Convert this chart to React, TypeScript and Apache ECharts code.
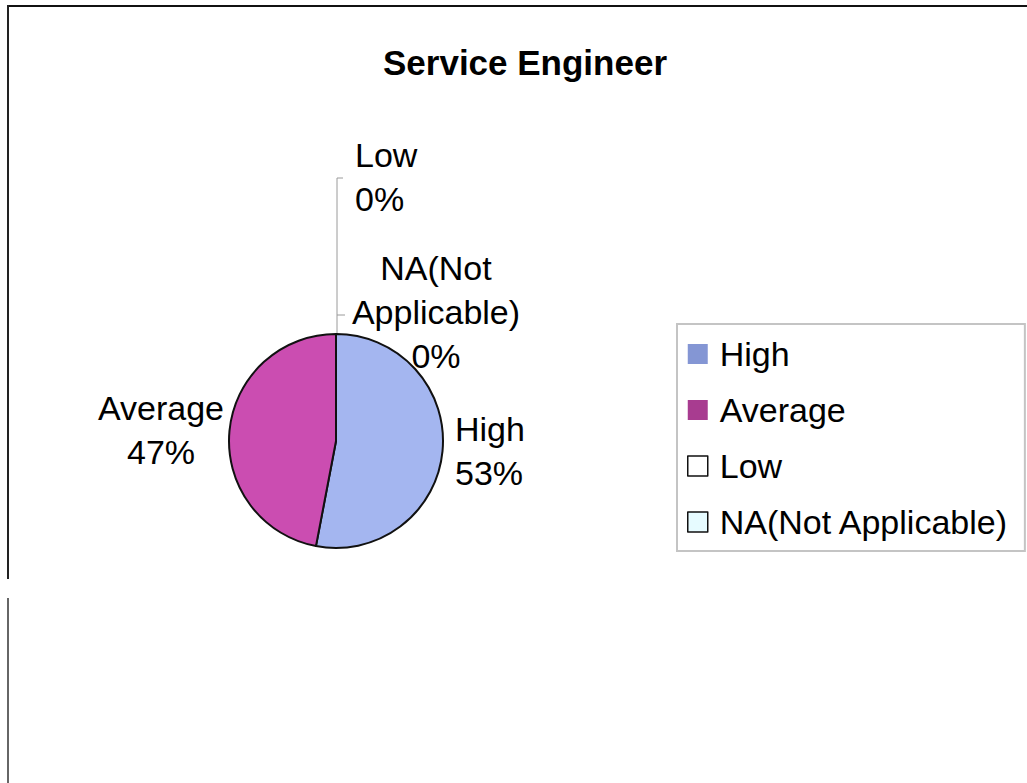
import React, { useEffect, useRef } from "react";
import * as echarts from "echarts";

const categories = ["High", "Average", "Low", "NA(Not Applicable)"];
const values = [53, 47, 0, 0];
const labelNames = ["High", "Average", "Low", "NA(Not\nApplicable)"];
const sliceColors = ["#A4B6F0", "#CB4DB1", "#FFFFFF", "#DDFFFF"];
const legendColors = ["#8496D4", "#A83C90", "#FFFFFF", "#E6FBFF"];

const FONT = "'Liberation Sans', Arial, sans-serif";
const CX = 336;
const CY = 441;
const R = 107;

// label anchor offsets relative to pie centre
const labelAnchors = [
  { dx: 119, dy: 10, align: "left" },
  { dx: -175, dy: -11, align: "center" },
  { dx: 19, dy: -264, align: "left" },
  { dx: 100, dy: -129, align: "center" },
];

export default function App() {
  const ref = useRef<HTMLDivElement>(null);
  useEffect(() => {
    if (!ref.current) return;
    const chart = echarts.init(ref.current, undefined, { renderer: "svg" });
    chart.setOption({
      animation: false,
      backgroundColor: "#ffffff",
      title: {
        text: "Service Engineer",
        left: 520,
        top: 40,
        textAlign: "center",
        textStyle: {
          fontFamily: FONT,
          fontWeight: "bold",
          fontSize: 35,
          color: "#000",
        },
      },
      legend: {
        orient: "vertical",
        left: 677,
        top: 324,
        padding: [13, 16, 12, 10],
        itemGap: 22,
        itemWidth: 20,
        itemHeight: 20,
        borderColor: "#c4c4c4",
        borderWidth: 2,
        data: categories.map((c, i) => ({
          name: c,
          icon: "rect",
          itemStyle: {
            color: legendColors[i],
            borderColor: i < 2 ? legendColors[i] : "#111",
            borderWidth: i < 2 ? 0 : 1.5,
          },
        })),
        textStyle: {
          fontFamily: FONT,
          fontSize: 34,
          lineHeight: 34,
          color: "#000",
          padding: [0, 0, 0, 7],
        },
      },
      graphic: [
        { type: "line", shape: { x1: 7, y1: 6, x2: 1027, y2: 6 }, style: { stroke: "#111", lineWidth: 2 } },
        { type: "line", shape: { x1: 8, y1: 5, x2: 8, y2: 579 }, style: { stroke: "#222", lineWidth: 2 } },
        { type: "line", shape: { x1: 8, y1: 598, x2: 8, y2: 783 }, style: { stroke: "#333", lineWidth: 1.5 } },
        {
          type: "polyline",
          shape: { points: [[CX + 1, CY - R], [CX + 1, 178], [CX + 7, 178]] },
          style: { stroke: "#9a9a9a", lineWidth: 1, fill: "none" },
          z: 1,
        },
        {
          type: "line",
          shape: { x1: CX + 1, y1: 315, x2: CX + 9, y2: 315 },
          style: { stroke: "#9a9a9a", lineWidth: 1 },
          z: 1,
        },
      ],
      series: [
        {
          type: "pie",
          center: [CX, CY],
          radius: R,
          startAngle: 90,
          clockwise: true,
          percentPrecision: 0,
          avoidLabelOverlap: false,
          itemStyle: { borderColor: "#111", borderWidth: 2 },
          emphasis: { disabled: true },
          labelLine: { show: false },
          label: {
            show: true,
            position: "outside",
            fontFamily: FONT,
            fontSize: 34,
            lineHeight: 44,
            color: "#000",
            formatter: (p: any) => `${labelNames[p.dataIndex]}\n${p.percent}%`,
          },
          labelLayout: (p: any) => {
            const a = labelAnchors[p.dataIndex];
            return {
              x: CX + a.dx,
              y: CY + a.dy,
              align: a.align,
              verticalAlign: "middle",
            };
          },
          data: categories.map((c, i) => ({
            name: c,
            value: values[i],
            itemStyle: { color: sliceColors[i] },
          })),
        },
      ],
    });
    return () => chart.dispose();
  }, []);
  return (
    <div
      ref={ref}
      style={{ position: "fixed", left: 0, top: 0, width: 1027, height: 783 }}
    />
  );
}
